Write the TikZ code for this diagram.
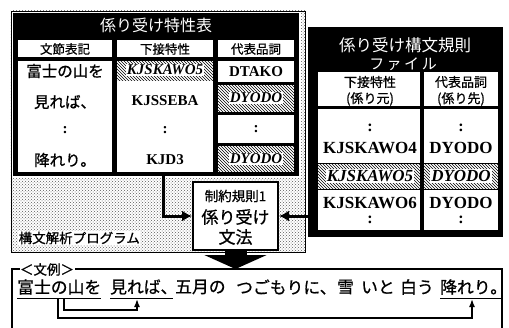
\documentclass[tikz,border=0pt]{standalone}
\usepackage{fontspec}
\setmainfont{Liberation Serif}
\newfontfamily\jpfont{Noto Sans CJK JP}
\newfontfamily\jpmfont[FakeBold=0.8]{Noto Sans CJK JP}
\usetikzlibrary{patterns,arrows.meta,calc}
\newcommand\jsz[1]{\jpfont\fontsize{#1}{#1}\selectfont}
\newcommand\jsb[1]{\jpmfont\fontsize{#1}{#1}\selectfont}
\newcommand\rsz[1]{\rmfamily\bfseries\fontsize{#1}{#1}\selectfont}
\newcommand\isz[1]{\rmfamily\bfseries\itshape\fontsize{#1}{#1}\selectfont}
\begin{document}
\begin{tikzpicture}[x=1pt,y=-1pt,
  txt/.style={inner sep=0pt},
  htxt/.style={inner sep=1pt, fill=white},
  hcell/.style={pattern=north west lines, pattern color=black},
  conn/.style={line width=3pt, -{Latex[length=10pt,width=11pt]}},
  sconn/.style={line width=1.5pt, -{Latex[length=8pt,width=6pt]}},
  uline/.style={line width=1.3pt},
  blk/.style={fill=black, inner sep=0pt, anchor=north west},
  sent/.style={inner sep=0pt, anchor=west, font=\jsb{16.8}}
]
\useasboundingbox (0,0) rectangle (509,327);

% program box
\node[draw, line width=0.8pt, pattern=crosshatch dots, pattern color=black!65,
      minimum width=294pt, minimum height=241pt, anchor=north west, inner sep=0pt] (prog) at (10.5,10.5) {};
\fill[white] (11.5,11.5) rectangle (300.5,178);
\node[txt, font=\jsb{13.5}, anchor=west, fill=white, inner sep=0.5pt] (proglbl) at (18,238) {構文解析プログラム};

% left table
\node[blk, minimum width=286pt, minimum height=163pt] (ltab) at (13,13) {};
\node[txt, text=white, font=\jsz{16}] (ltitle) at (156,25) {係り受け特性表};
\fill[white] (18,40) rectangle (112,57);
\fill[white] (117,40) rectangle (213,57);
\fill[white] (218,40) rectangle (294,57);
\fill[white] (18,61) rectangle (112,172);
\fill[white] (117,61) rectangle (213,172);
\path[hcell] (117,61) rectangle (213,80);
\fill[white] (218,61) rectangle (294,82);
\fill[white] (218,85) rectangle (294,112);
\path[hcell] (218,85) rectangle (294,112);
\fill[white] (218,115) rectangle (294,143);
\fill[white] (218,146) rectangle (294,172);
\path[hcell] (218,146) rectangle (294,172);

\node[txt, font=\jsb{12.5}] (h1) at (65,49) {文節表記};
\node[txt, font=\jsb{12.5}] (h2) at (165,49) {下接特性};
\node[txt, font=\jsb{12.5}] (h3) at (256,49) {代表品詞};

\node[txt, font=\jsb{15.5}] (a1) at (65,71) {富士の山を};
\node[txt, font=\jsb{15.5}] (a2) at (65,102) {見れば、};
\node[txt, font=\rsz{15}] (a3) at (65,130) {:};
\node[txt, font=\jsb{15.5}] (a4) at (65,160) {降れり。};

\node[htxt, font=\isz{15}] (b1) at (165,70) {KJSKAWO5};
\node[txt, font=\rsz{15}] (b2) at (165,101) {KJSSEBA};
\node[txt, font=\rsz{15}] (b3) at (165,130) {:};
\node[txt, font=\rsz{15}] (b4) at (165,160) {KJD3};

\node[txt, font=\rsz{15}] (c1) at (256,72) {DTAKO};
\node[htxt, font=\isz{15}] (c2) at (256,98) {DYODO};
\node[txt, font=\rsz{15}] (c3) at (256,129) {:};
\node[htxt, font=\isz{15}] (c4) at (256,159) {DYODO};

% rule box
\node[draw, line width=2pt, fill=white, minimum width=85pt, minimum height=68pt, inner sep=0pt] (rule) at (235.5,216) {};
\node[txt, font=\jsb{13.5}] (r1) at (235.5,196) {制約規則1};
\node[txt, font=\jsb{17}] (r2) at (235.5,217) {係り受け};
\node[txt, font=\jsb{17}] (r3) at (235.5,237) {文法};

\coordinate (lt) at ($(ltab.south west)+(150,0)$);
\draw[conn] (lt) |- (rule.west);

% right table
\node[blk, minimum width=195pt, minimum height=210pt] (rtab) at (308,27) {};
\node[txt, text=white, font=\jsz{16.5}] (rt1) at (405,45) {係り受け構文規則};
\node[txt, text=white, font=\jsz{15}] (rt2) at (403,64) {フ\,ァ\,イ\,ル};
\fill[white] (318,72) rectangle (420,106);
\fill[white] (424,72) rectangle (498,106);
\fill[white] (318,109) rectangle (420,230);
\fill[white] (424,109) rectangle (498,230);
\path[hcell] (318,163) rectangle (420,189);
\path[hcell] (424,163) rectangle (498,189);
\draw[line width=1pt] (318,163) -- (498,163) (318,189) -- (498,189);

\node[txt, font=\jsb{13}] (rh1) at (370,82) {下接特性};
\node[txt, font=\jsb{13}] (rh2) at (370,99) {(係り元)};
\node[txt, font=\jsb{13}] (rh3) at (461,82) {代表品詞};
\node[txt, font=\jsb{13}] (rh4) at (461,99) {(係り先)};

\node[txt, font=\rsz{16}] (d1) at (370,128) {:};
\node[txt, font=\rsz{16}] (e1) at (461,128) {:};
\node[txt, font=\rsz{17}] (d2) at (370,148) {KJSKAWO4};
\node[txt, font=\rsz{17}] (e2) at (461,148) {DYODO};
\node[htxt, font=\isz{17}] (d3) at (370,176) {KJSKAWO5};
\node[htxt, font=\isz{17}] (e3) at (461,176) {DYODO};
\node[txt, font=\rsz{17}] (d4) at (370,203) {KJSKAWO6};
\node[txt, font=\rsz{17}] (e4) at (461,203) {DYODO};
\node[txt, font=\rsz{16}] (d5) at (370,220) {:};
\node[txt, font=\rsz{16}] (e5) at (461,220) {:};

\draw[conn] (rtab.west |- rule.east) -- (rule.east);

% example frame
\draw[line width=1.2pt] (12,335) -- (12,269) -- (502,269) -- (502,335);
\coordinate (exin) at (238,269);
\draw[line width=22pt, -{Triangle[length=14pt,width=62pt]}] (rule.south) -- (rule.south |- exin);
\node[fill=white, inner sep=0.5pt, font=\jsb{13.5}] (ex) at (47,269.5) {＜文例＞};

\node[sent] (s1) at (17,287) {富士の山を};
\node[sent] (s2) at (110,287) {見れば、};
\node[sent] (s3) at (175,287) {五月の};
\node[sent] (s4) at (236,287) {つごもりに、};
\node[sent] (s5) at (337,287) {雪};
\node[sent] (s6) at (361,287) {いと};
\node[sent] (s7) at (400,287) {白う};
\node[sent] (s8) at (440,287) {降れり。};

\draw[uline] (s1.west |- 0,298.5) -- (s1.east |- 0,298.5);
\draw[uline] (s2.west |- 0,298.5) -- ($(s2.east |- 0,298.5)+(-5,0)$);
\draw[uline] (s8.west |- 0,298.5) -- ($(s8.east |- 0,298.5)+(-6,0)$);

\coordinate (k1) at (58,299);
\coordinate (k2) at (64,299);
\coordinate (k3) at (137,299);
\coordinate (k4) at (472,299);
\draw[sconn] (k1) -- ++(0,19) -| (k4);
\draw[sconn] (k2) -- ++(0,11) -| (k3);
\end{tikzpicture}
\end{document}
